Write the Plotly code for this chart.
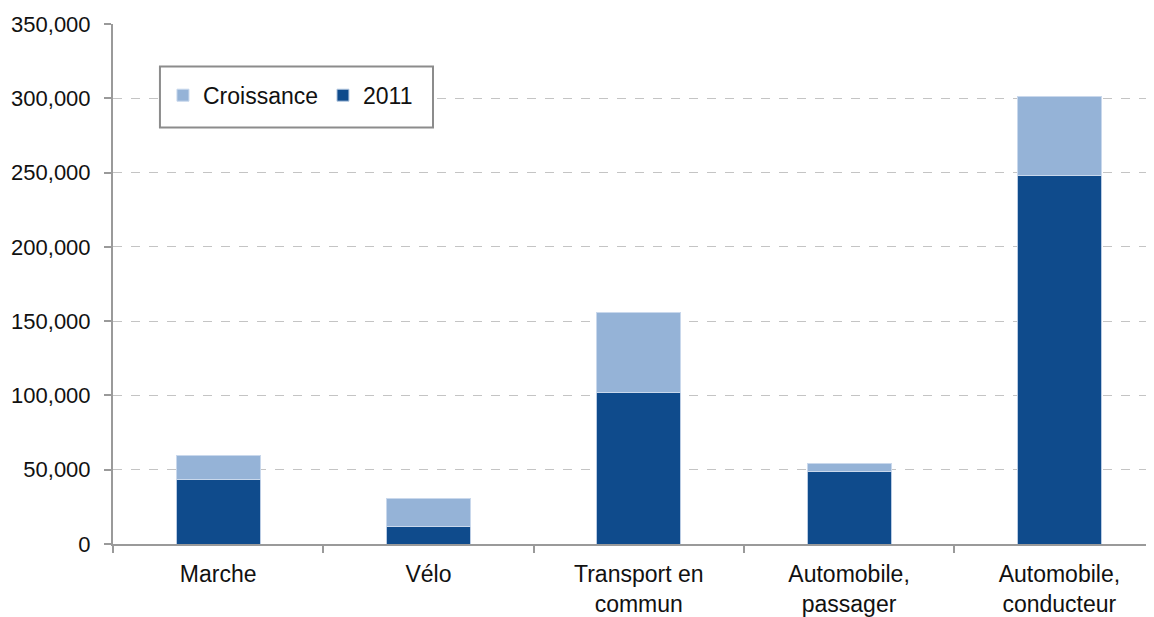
import plotly.graph_objs as go

categories = ['Marche', 'Vélo', 'Transport en<br>commun', 'Automobile,<br>passager', 'Automobile,<br>conducteur']
values_2011 = [43700, 12100, 101700, 48600, 248200]
values_croissance = [15600, 18400, 54000, 5400, 52900]

fig = go.Figure()

fig.add_trace(go.Bar(
    x=categories,
    y=values_2011,
    name='2011',
    marker=dict(color='#0f4b8c', line=dict(color='#b9cbe3', width=1))
))

fig.add_trace(go.Bar(
    x=categories,
    y=values_croissance,
    name='Croissance',
    marker=dict(color='#95b3d7', line=dict(color='#c9d8ec', width=1))
))

# page body has an 8px margin, so the figure is sized to fit inside it
fig.update_layout(
    barmode='stack',
    bargap=0.6,
    width=1146,
    height=609,
    plot_bgcolor='white',
    paper_bgcolor='white',
    font=dict(family='Liberation Sans, Arial, sans-serif', size=23, color='#111111'),
    margin=dict(t=16, b=73, l=105, r=0, autoexpand=False),
    showlegend=True,
    legend=dict(
        orientation='h',
        traceorder='reversed',
        x=0.048,
        y=0.863,
        xanchor='left',
        yanchor='middle',
        bgcolor='rgba(0,0,0,0)',
        borderwidth=0,
        font=dict(size=23),
        entrywidth=115,
        entrywidthmode='pixels'
    ),
    shapes=[dict(
        type='rect', xref='paper', yref='paper',
        x0=0.0451, x1=0.3074, y0=0.8012, y1=0.9183,
        line=dict(color='#8c8c8c', width=2),
        fillcolor='white', layer='above'
    )]
)

fig.update_xaxes(
    range=[-0.5, 4.45],
    showline=True,
    linecolor='#9a9a9a',
    linewidth=2,
    ticks='outside',
    tickson='boundaries',
    ticklen=7,
    tickcolor='#9a9a9a',
    tickwidth=2,
    ticklabelstandoff=8,
    showgrid=False
)

fig.update_yaxes(
    range=[0, 350000],
    dtick=50000,
    tickformat=',',
    tickfont=dict(size=22),
    showline=True,
    linecolor='#9a9a9a',
    linewidth=2,
    ticks='outside',
    ticklen=7,
    tickcolor='#9a9a9a',
    tickwidth=2,
    ticklabelstandoff=9,
    gridcolor='#c4c4c4',
    griddash='dash',
    gridwidth=1,
    zeroline=False
)

fig.write_html('out.html')
